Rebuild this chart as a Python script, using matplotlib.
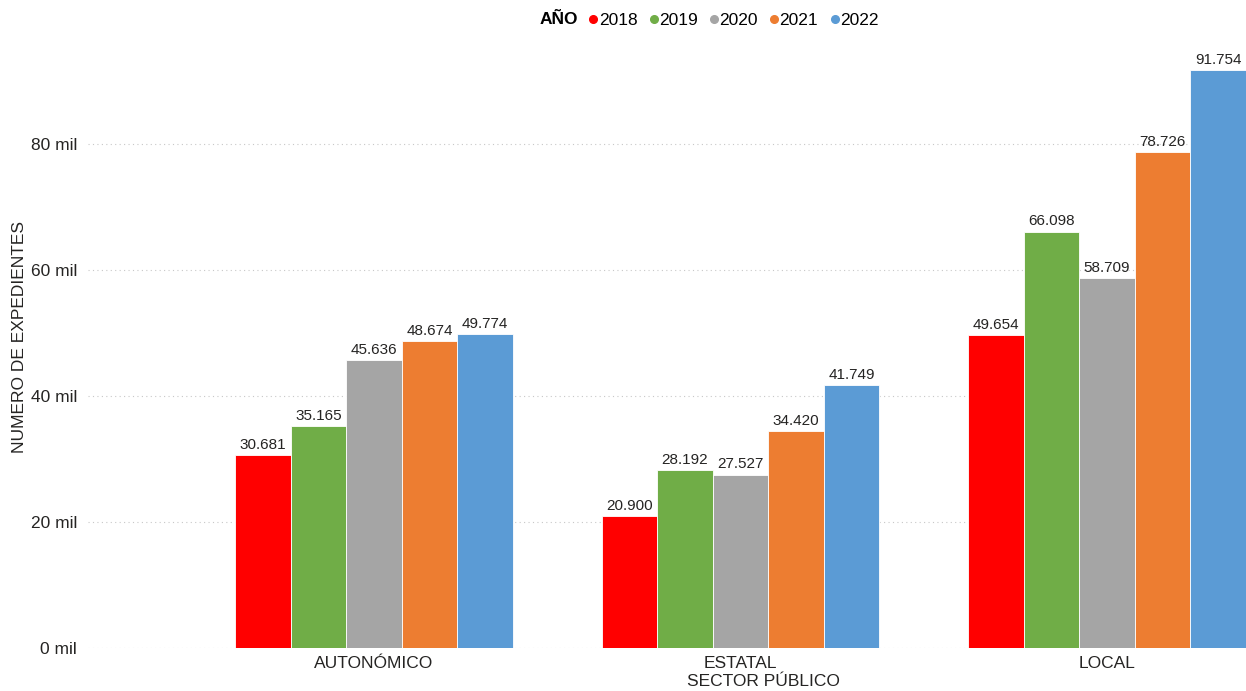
import matplotlib.pyplot as plt
import numpy as np
from matplotlib.lines import Line2D

plt.rcParams['font.family'] = ['Liberation Sans', 'DejaVu Sans']

# Data
sectors = ['AUTONÓMICO', 'ESTATAL', 'LOCAL']
years = ['2018', '2019', '2020', '2021', '2022']
v2018 = [30681, 20900, 49654]
v2019 = [35165, 28192, 66098]
v2020 = [45636, 27527, 58709]
v2021 = [48674, 34420, 78726]
v2022 = [49774, 41749, 91754]
yticks = [0, 20000, 40000, 60000, 80000]

series = [v2018, v2019, v2020, v2021, v2022]
colors = ['#FF0000', '#70AD47', '#A5A5A5', '#ED7D31', '#5B9BD5']

W, H = 1246, 691
fig = plt.figure(figsize=(W / 100, H / 100), dpi=100)
ax = fig.add_axes([88 / W, (H - 648) / H, (1246 - 88) / W, (648 - 40) / H])

x = np.arange(len(sectors))
bw = 0.757 / 5
for i, (vals, c) in enumerate(zip(series, colors)):
    pos = x + (i - 2) * bw
    ax.bar(pos, vals, width=bw, color=c, edgecolor='white', linewidth=0.6, zorder=3)
    for px, v in zip(pos, vals):
        lbl = f'{v:,}'.replace(',', '.')
        ax.text(px, v + 500, lbl, ha='center', va='bottom', fontsize=11, color='#252423')

ax.set_xlim(-0.78, 2.379)
ax.set_ylim(0, (648 - 40) / 6.3 * 1000)
ax.set_yticks(yticks)
ax.set_yticklabels([f'{t // 1000} mil' for t in yticks], fontsize=12.5, color='#252423')
ax.set_xticks(x)
ax.set_xticklabels(sectors, fontsize=12.5, color='#252423')
ax.tick_params(length=0, axis='y', pad=8)
ax.tick_params(length=0, axis='x', pad=6)
ax.grid(axis='y', linestyle=(0, (1, 3)), color='#C8C8C8', linewidth=0.8, zorder=0)
for s in ax.spines.values():
    s.set_visible(False)

ax.set_ylabel('NUMERO DE EXPEDIENTES', fontsize=12.5, color='#252423')
ax.yaxis.set_label_coords((27 - 88) / (1246 - 88), (648 - 337) / 608)
fig.text(763 / W, 1 - 682 / H, 'SECTOR PÚBLICO', ha='center', va='center',
         fontsize=12.5, color='#252423')

# legend
fig.text(540 / W, 1 - 20 / H, 'AÑO', ha='left', va='center', fontsize=12.5,
         fontweight='bold', color='#000000')
handles = [Line2D([], [], marker='o', linestyle='none', color=c, markersize=5.5)
           for c in colors]
fig.legend(handles, years, loc='center left', bbox_to_anchor=(583 / W, 1 - 20 / H),
           ncol=5, frameon=False, fontsize=12.5, handletextpad=-0.3,
           columnspacing=0.35, handlelength=1.2, borderaxespad=0, borderpad=0)

fig.savefig('out.png', dpi=100)
